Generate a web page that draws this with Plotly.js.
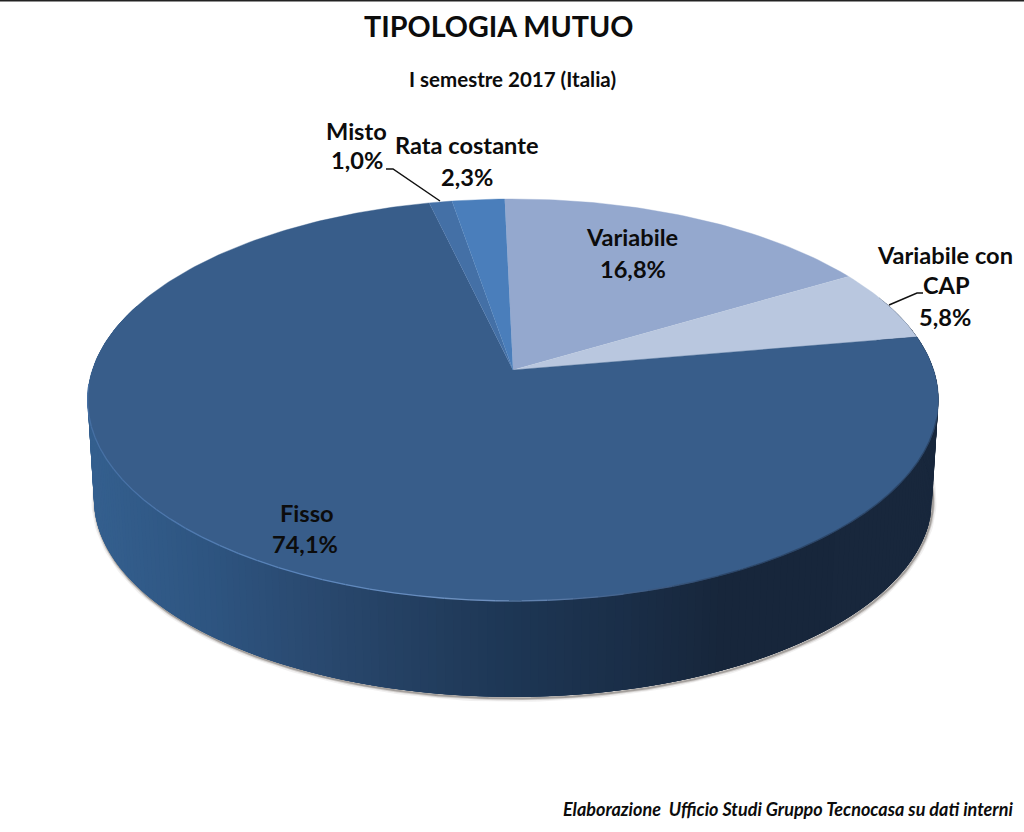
<!DOCTYPE html>
<html><head><meta charset="utf-8">
<script src="https://cdn.plot.ly/plotly-3.0.1.min.js"></script>
<style>html,body{margin:0;padding:0;background:#fff}#c{width:1024px;height:832px}</style>
</head><body><div id="c"></div>
<script>
// ---- data ----
var categories = ["Variabile", "Variabile con CAP", "Fisso", "Misto", "Rata costante"];
var shares = [16.8, 5.8, 74.1, 1.0, 2.3];
var titleText = "TIPOLOGIA MUTUO";
var subtitleText = "I semestre 2017 (Italia)";
var sourceText = "Elaborazione  Ufficio Studi Gruppo Tecnocasa su dati interni";

// ---- styling ----
var sliceColors = ["#94a8ce", "#b9c7df", "#385d8a", "#4470a6", "#4a7ebb"];
var wallStops = [[90,[52,95,142]],[200,[46,85,129]],[300,[42,74,113]],[400,[36,64,98]],[510,[29,54,84]],[620,[26,46,72]],[720,[23,38,59]],[940,[24,39,60]]];
var rimStops = [[90,[70,112,164]],[300,[92,134,188]],[480,[112,146,192]],[600,[70,100,142]],[720,[44,70,104]],[940,[44,70,104]]];
var startAngle = 91.3;
// perspective projection of the disc onto the page
var P = {cx:513, cy:370, a:420.7, b:196.5, k:0.149};
var DROP = {cy:469.5, s:0.985};

function project(deg, cy, s){
  var t = deg*Math.PI/180, u = Math.cos(t), v = Math.sin(t), d = 1 + P.k*v;
  return [P.cx + s*P.a*u/d, cy - s*P.b*v/d];
}
function mix(stops, x){
  if (x <= stops[0][0]) return stops[0][1];
  for (var i = 1; i < stops.length; i++) if (x <= stops[i][0]) {
    var f = (x-stops[i-1][0])/(stops[i][0]-stops[i-1][0]);
    return stops[i-1][1].map(function(c,j){return Math.round(c+(stops[i][1][j]-c)*f);});
  }
  return stops[stops.length-1][1];
}
function rgb(c){return "rgb("+c.join(",")+")";}
function fmt(v){return v.toFixed(1).replace(".",",")+"%";}
var traces = [];
function poly(xs, ys, color, lw){
  traces.push({type:"scatter",mode:"lines",x:xs,y:ys,fill:"toself",fillcolor:color,
    line:{color:color,width:lw},hoverinfo:"skip",showlegend:false});
}
function stroke(xs, ys, color, w){
  traces.push({type:"scatter",mode:"lines",x:xs,y:ys,line:{color:color,width:w},hoverinfo:"skip",showlegend:false});
}
function arc(a0, a1, cy, s, dx, dy){
  var xs=[], ys=[], n=Math.ceil(Math.abs(a1-a0)), i, p;
  for(i=0;i<=n;i++){p=project(a0+(a1-a0)*i/n,cy,s);xs.push(p[0]+(dx||0));ys.push(p[1]+(dy||0));}
  return [xs,ys];
}
// soft shadow under the disc
[[7,"rgba(120,112,105,0.10)"],[4,"rgba(110,100,92,0.22)"],[2,"rgba(90,84,80,0.40)"]].forEach(function(o){
  var r = arc(172,372,DROP.cy,DROP.s,1,1.5); stroke(r[0],r[1],o[1],o[0]);
});
// side wall: overlapping bands painted left to right so no seam shows
for (var d=160; d<380; d+=1){
  var upper=arc(d,d+4,P.cy,1), lower=arc(d+4,d,DROP.cy,DROP.s);
  var xm=upper[0][0];
  poly(upper[0].concat(lower[0]),upper[1].concat(lower[1]),rgb(mix(wallStops,xm)),0);
}
// top face, slices run clockwise from startAngle
var ang=startAngle;
shares.forEach(function(v,i){
  var sweep=v/100*360, r=arc(ang,ang-sweep,P.cy,1);
  poly([P.cx].concat(r[0]),[P.cy].concat(r[1]),sliceColors[i],0.4);
  ang-=sweep;
});
// bevel highlight along the front rim
for (var e=184; e<345; e+=3){
  var seg=arc(e,e+3,P.cy,1);
  stroke(seg[0],seg[1],rgb(mix(rimStops,seg[0][0])),1.3);
}

// label placement (centre of each text line, page units)
var labelLines = [
  [[categories[0],632,237],[fmt(shares[0]),633,269]],
  [["Variabile con",945,255],["CAP",946,285],[fmt(shares[1]),945,317]],
  [[categories[2],307,513],[fmt(shares[2]),305,544]],
  [[categories[3],356,131],[fmt(shares[3]),357,160]],
  [[categories[4],467,145],[fmt(shares[4]),467,177]]
];
var ann=[];
function label(t,x,y,size){
  ann.push({text:t,x:x,y:y,xref:"x",yref:"y",showarrow:false,xanchor:"center",yanchor:"middle",
    font:{family:"Lato, Carlito, sans-serif",size:size,color:"#0c0c0c",weight:700}});
}
labelLines.forEach(function(g){g.forEach(function(l){label(l[0],l[1],l[2],23.6);});});
label(titleText,498.5,26,28.7);
label(subtitleText,512,79,20.5);
label("<i>"+sourceText+"</i>",787.5,809,18);

var layout={width:1024,height:832,margin:{l:0,r:0,t:0,b:0},paper_bgcolor:"#fff",plot_bgcolor:"#fff",showlegend:false,
  xaxis:{range:[0,1024],visible:false,fixedrange:true},
  yaxis:{range:[832,0],visible:false,fixedrange:true},
  annotations:ann,
  shapes:[
    {type:"line",xref:"paper",yref:"y",x0:0,x1:1,y0:0.6,y1:0.6,line:{color:"#222",width:1.6}},
    {type:"path",xref:"x",yref:"y",path:"M 440 201 L 393 169 L 386 169",line:{color:"#111",width:1.5}},
    {type:"path",xref:"x",yref:"y",path:"M 889 305 L 917 293 L 923 293",line:{color:"#111",width:1.5}}
  ]};
Plotly.newPlot("c",traces,layout,{staticPlot:true,displayModeBar:false});
</script></body></html>
